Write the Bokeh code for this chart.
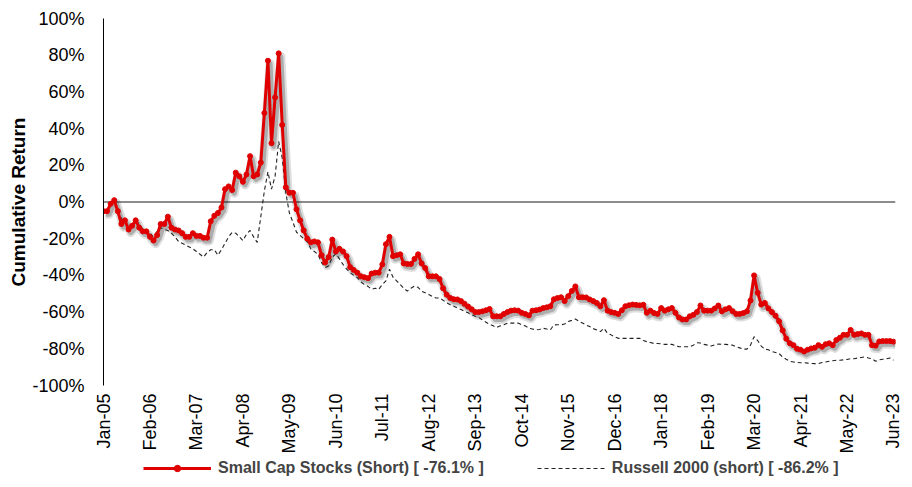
import math
from bokeh.plotting import figure
from bokeh.layouts import column
from bokeh.models import Range1d, FixedTicker, PrintfTickFormatter, Span, Legend, LegendItem
from bokeh.embed import file_html
from bokeh.resources import INLINE

# ---------------- data ----------------
tick_labels = ["Jan-05", "Feb-06", "Mar-07", "Apr-08", "May-09", "Jun-10", "Jul-11",
               "Aug-12", "Sep-13", "Oct-14", "Nov-15", "Dec-16", "Jan-18", "Feb-19",
               "Mar-20", "Apr-21", "May-22", "Jun-23"]

series_names = ["Small Cap Stocks (Short) [ -76.1% ]", "Russell 2000 (short) [ -86.2% ]"]

# monthly cumulative return (%), Jan-05 .. Jun-23
small_cap_short = [
    -5, -5, -1, 1, -5, -12, -10, -15, -13, -10, -14, -16,                       # 2005
    -16, -19, -21, -18, -12, -12, -8, -14, -15, -15.5, -17, -19,                # 2006
    -19, -17, -18.5, -18.5, -19.5, -19.5, -10.5, -7.5, -6, -3, 7, 8.5,          # 2007
    6.5, 16, 14, 11, 15, 25, 14, 15, 21.5, 48.5, 77, 32,                        # 2008
    57, 81, 42, 8, 5, 5, -4, -10, -15.5, -20, -22, -21.5,                       # 2009
    -22, -29, -33, -30, -20.5, -27, -25.5, -27, -29.5, -35.5, -37, -38.5,       # 2010
    -40.5, -41, -41.5, -39, -38.5, -38.5, -34, -23, -19, -29.5, -29, -28.5,     # 2011
    -33.5, -33.8, -33.8, -31, -28.5, -33.5, -36, -40.5, -40.5, -40.5, -42, -47, # 2012
    -50.5, -52.3, -53, -53.1, -54, -55.5, -57, -58.5, -60, -60, -59.6, -59,     # 2013
    -58.3, -62.3, -62.3, -62.3, -61, -60, -59.2, -59, -59.2, -60.4, -61, -61.8, # 2014
    -59.2, -59, -58.6, -57.8, -57.4, -56.8, -53, -52.3, -51.9, -54, -51.3, -48.5,  # 2015
    -46, -51.9, -51.9, -52, -53.1, -54, -55, -56.8, -53.5, -59.2, -60, -60.4,   # 2016
    -61, -59, -56.8, -56.3, -55.9, -56.1, -56.3, -56, -60.4, -59.2, -60.5, -61, # 2017
    -57.8, -59.2, -58.5, -57.8, -60.4, -63, -64, -64, -62.3, -61.5, -60, -56.4, # 2018
    -59.2, -59.2, -59.2, -58, -56.4, -59.6, -58.5, -57.8, -59.5, -61, -61, -60.5,  # 2019
    -59.6, -53.7, -40, -49.5, -55.9, -55, -58, -60, -62, -65, -70, -74.5,       # 2020
    -77, -78, -80, -80.5, -81.5, -80.5, -79.8, -79.4, -78, -78.9, -77.5, -77,   # 2021
    -78, -75.2, -74, -72.4, -72.4, -69.7, -72.4, -72, -71.6, -72.4, -72.4, -78, # 2022
    -78.3, -76, -75.8, -75.8, -75.8, -76.1,                                     # 2023
]

russell_short = [
    -5, -5, -2, 1, -5, -9, -11, -13, -12, -10, -12, -15,                        # 2005
    -15, -17, -19, -16, -14, -15, -15.5, -17, -19, -21.5, -22.5, -23.5,         # 2006
    -24.5, -25.5, -27, -28.5, -30, -27.5, -26, -26, -29, -26, -22.5, -19,       # 2007
    -16.5, -17, -19, -21, -17.5, -15.5, -19, -22, -8, 6, 16.5, 7,               # 2008
    14, 33, 24, 5, -6, -11, -16.5, -18.2, -20, -21.5, -25.5, -27,               # 2009
    -28.5, -33, -35.7, -34.8, -30, -28.3, -31, -34, -36.5, -38.5, -40, -41.2,   # 2010
    -43.5, -45, -46, -47.6, -47, -47.6, -45, -43, -36.6, -41, -43, -44.9,       # 2011
    -47, -48.6, -47, -45.8, -46.5, -48.6, -49.5, -50.4, -51.5, -52.3, -52.3, -53.5,  # 2012
    -55, -56, -56.8, -57.8, -58.6, -59.5, -60.4, -61.5, -62.3, -63, -64.2, -65.5,    # 2013
    -66.6, -67.5, -68.4, -67.5, -66.9, -66, -66, -66, -66, -66.9, -67.5, -68.8,      # 2014
    -69.2, -69.7, -69.5, -68.8, -69.2, -69.7, -67, -66.9, -66.9, -66.5, -65.1, -64.5,  # 2015
    -63.8, -65, -66, -67, -67.9, -69, -69.7, -70.6, -68.8, -71.6, -72.4, -73.5,      # 2016
    -74.3, -74.3, -74.3, -74.3, -74.3, -74.3, -74.3, -75.5, -76.1, -76.6, -77.1, -77.1,  # 2017
    -77.3, -77.6, -77.6, -77.6, -78.2, -78.9, -78.9, -78.9, -78.9, -78, -76.7, -76.8,    # 2018
    -77.6, -78, -78.5, -77.8, -77.4, -77.6, -77.6, -77.8, -78, -78.9, -79.5, -80.2,      # 2019
    -80.2, -78, -73.4, -75.5, -78.5, -80.2, -80.5, -81.5, -82, -82.6, -84.5, -85.7,      # 2020
    -86.8, -87.2, -87.4, -87.6, -87.6, -87.8, -88, -88.1, -88.1, -87.5, -87.2, -86.8,    # 2021
    -86.5, -86.2, -86.2, -86, -85.8, -85.4, -85.4, -85, -84.7, -84.4, -85, -85.4,        # 2022
    -86.8, -86, -85.7, -85.5, -85, -86.2,                                                # 2023
]

y_ticks = [-100, -80, -60, -40, -20, 0, 20, 40, 60, 80, 100]

# ---------------- chart ----------------
months = list(range(len(small_cap_short)))
TICK_STEP = 13
tick_pos = [i * TICK_STEP for i in range(len(tick_labels))]
x_end = months[-1] + 0.56

RED = "#e00000"
DASH_COLOR = "#222222"
FONT = "Liberation Sans"
W = 904

p = figure(width=W, height=458, output_backend="svg", toolbar_location=None,
           x_range=Range1d(0, x_end), y_range=Range1d(-100, 100),
           min_border_left=103, min_border_right=9, min_border_top=18, min_border_bottom=73)
p.outline_line_color = None
p.grid.visible = False
p.background_fill_color = "white"
p.border_fill_color = "white"

# shadow ranges (same data, shifted a few pixels right/down)
sx, sy = 0.6, 1.7
p.extra_x_ranges = {"shx": Range1d(-sx, x_end - sx)}
p.extra_y_ranges = {"shy": Range1d(-100 + sy, 100 + sy)}

zero = Span(location=0, dimension="width", line_color="#666666", line_width=1.6, level="underlay")
p.add_layout(zero)

p.line(months, small_cap_short, x_range_name="shx", y_range_name="shy",
       line_color="black", line_alpha=0.13, line_width=9, line_join="round")
p.line(months, small_cap_short, x_range_name="shx", y_range_name="shy",
       line_color="black", line_alpha=0.22, line_width=5, line_join="round")

p.line(months, russell_short, line_color=DASH_COLOR, line_width=1.1, line_dash="4 3")
p.line(months, small_cap_short, line_color=RED, line_width=3, line_join="round")
p.scatter(months, small_cap_short, size=5, color=RED)

# axes
p.yaxis.ticker = FixedTicker(ticks=y_ticks)
p.yaxis.formatter = PrintfTickFormatter(format="%d%%")
p.yaxis.axis_line_color = "black"
p.yaxis.axis_line_width = 1
p.yaxis.major_tick_line_color = None
p.yaxis.minor_tick_line_color = None
p.yaxis.major_tick_out = 0
p.yaxis.major_tick_in = 0
p.yaxis.major_label_standoff = 19
p.yaxis.major_label_text_font = FONT
p.yaxis.major_label_text_font_size = "18px"
p.yaxis.major_label_text_color = "black"
p.yaxis.axis_label = "Cumulative Return"
p.yaxis.axis_label_text_font = FONT
p.yaxis.axis_label_text_font_style = "bold"
p.yaxis.axis_label_text_font_size = "19px"
p.yaxis.axis_label_text_color = "black"
p.yaxis.axis_label_standoff = 0

p.xaxis.ticker = FixedTicker(ticks=tick_pos)
p.xaxis.major_label_overrides = {pos: lab for pos, lab in zip(tick_pos, tick_labels)}
p.xaxis.axis_line_color = None
p.xaxis.major_tick_line_color = None
p.xaxis.minor_tick_line_color = None
p.xaxis.major_tick_out = 0
p.xaxis.major_tick_in = 0
p.xaxis.major_label_orientation = math.pi / 2
p.xaxis.major_label_standoff = 8
p.xaxis.major_label_text_font = FONT
p.xaxis.major_label_text_font_size = "18px"
p.xaxis.major_label_text_color = "black"

# ---------------- legend strip (same series, drawn out of view; only the legend shows) ----------------
lg = figure(width=W, height=22, output_backend="svg", toolbar_location=None,
            x_range=p.x_range, y_range=Range1d(300, 322),
            x_axis_type=None, y_axis_type=None,
            min_border_left=103, min_border_right=9, min_border_top=0, min_border_bottom=0)
lg.outline_line_color = None
lg.grid.visible = False
l_red = lg.line(months, small_cap_short, line_color=RED, line_width=3)
l_pts = lg.scatter(months, small_cap_short, size=5, color=RED)
l_rus = lg.line(months, russell_short, line_color=DASH_COLOR, line_width=1.1, line_dash="4 3")

legend = Legend(items=[LegendItem(label=series_names[0], renderers=[l_red, l_pts]),
                       LegendItem(label=series_names[1], renderers=[l_rus])],
                location=(40, 3), orientation="horizontal",
                glyph_width=68, glyph_height=16, label_height=16, label_standoff=7,
                spacing=53, padding=2, margin=0,
                border_line_color=None, background_fill_alpha=0,
                label_text_font=FONT, label_text_font_style="bold",
                label_text_font_size="16px")
lg.add_layout(legend)

layout = column(p, lg, spacing=0)
open("out.html", "w").write(file_html(layout, INLINE))
